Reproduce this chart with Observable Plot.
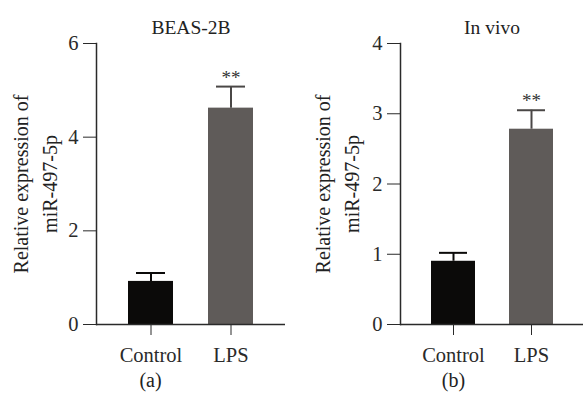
<!DOCTYPE html>
<html>
<head>
<meta charset="utf-8">
<script src="https://cdn.jsdelivr.net/npm/d3@7"></script>
<script src="https://cdn.jsdelivr.net/npm/@observablehq/plot@0.6"></script>
<style>
  html, body { margin: 0; padding: 0; background: #fff; }
  #wrap { position: relative; width: 583px; height: 411px; overflow: hidden; background: #fff; }
  .panel { position: absolute; top: 0; }
</style>
</head>
<body>
<div id="wrap">
  <div class="panel" id="pa" style="left:0px"></div>
  <div class="panel" id="pb" style="left:290px"></div>
</div>
<script>
// ---- data ----
const groups = ["Control", "LPS"];
const barColors = ["#0b0a09", "#5f5b59"];
const errColors = ["#0b0a09", "#4a4746"];

const titleA = "BEAS-2B";
const meansA = [0.92, 4.62];
const errsA = [0.18, 0.46];
const sigA = ["", "**"];
const yTicksA = [0, 2, 4, 6];
const yMaxA = 6;

const titleB = "In vivo";
const meansB = [0.90, 2.78];
const errsB = [0.12, 0.27];
const sigB = ["", "**"];
const yTicksB = [0, 1, 2, 3, 4];
const yMaxB = 4;

const yLabel = "Relative expression of\nmiR-497-5p";
const tagA = "(a)";
const tagB = "(b)";

const FONT = "'Liberation Serif', 'Times New Roman', serif";

function panel({title, means, errs, sig, yTicks, yMax, tag, width, marginLeft, marginRight, labelDx, tagDx, padOuter}) {
  const data = groups.map((g, i) => ({group: g, mean: means[i], err: errs[i], top: means[i] + errs[i], sig: sig[i], fill: barColors[i], ec: errColors[i]}));
  return Plot.plot({
    width,
    height: 411,
    marginTop: 43,
    marginBottom: 87,
    marginLeft,
    marginRight,
    style: {fontFamily: FONT, fontSize: "20.5px", color: "#2a2a2a", background: "transparent", overflow: "visible"},
    x: {domain: groups, paddingInner: 0.44, paddingOuter: padOuter, tickSize: 11, tickPadding: 12, label: null},
    y: {domain: [0, yMax], ticks: yTicks, tickSize: 13, tickPadding: 5, tickFormat: d3.format("d"), label: null},
    marks: [
      Plot.barY(data, {x: "group", y: "mean", fill: "fill"}),
      Plot.ruleX(data, {x: "group", y1: "mean", y2: "top", stroke: "ec", strokeWidth: 2}),
      Plot.tickY(data, {x: "group", y: "top", stroke: "ec", strokeWidth: 2, inset: 8}),
      Plot.text(data, {x: "group", y: "top", text: "sig", dy: -9, fontSize: 19, fill: "#333"}),
      Plot.ruleY([0], {stroke: "#2a2a2a", strokeWidth: 1.5}),
      Plot.frame({anchor: "left", stroke: "#2a2a2a", strokeWidth: 1.5}),
      Plot.text([title], {frameAnchor: "top", dy: -23, fontSize: 19.5, fill: "#222"}),
      Plot.text([yLabel], {frameAnchor: "left", rotate: -90, dx: labelDx, fontSize: 20, lineHeight: 1.42, textAnchor: "middle", lineAnchor: "middle", fill: "#222"}),
      Plot.text([tag], {frameAnchor: "bottom-left", dx: tagDx, dy: 56, fontSize: 20, textAnchor: "middle", lineAnchor: "middle", fill: "#222"})
    ]
  });
}

document.getElementById("pa").appendChild(panel({
  title: titleA, means: meansA, errs: errsA, sig: sigA, yTicks: yTicksA, yMax: yMaxA, tag: tagA,
  width: 290, marginLeft: 96, marginRight: 5, labelDx: -63, tagDx: 54, padOuter: 0.4
}));
document.getElementById("pb").appendChild(panel({
  title: titleB, means: meansB, errs: errsB, sig: sigB, yTicks: yTicksB, yMax: yMaxB, tag: tagB,
  width: 293, marginLeft: 110, marginRight: 0, labelDx: -65, tagDx: 53, padOuter: 0.38
}));
</script>
</body>
</html>
